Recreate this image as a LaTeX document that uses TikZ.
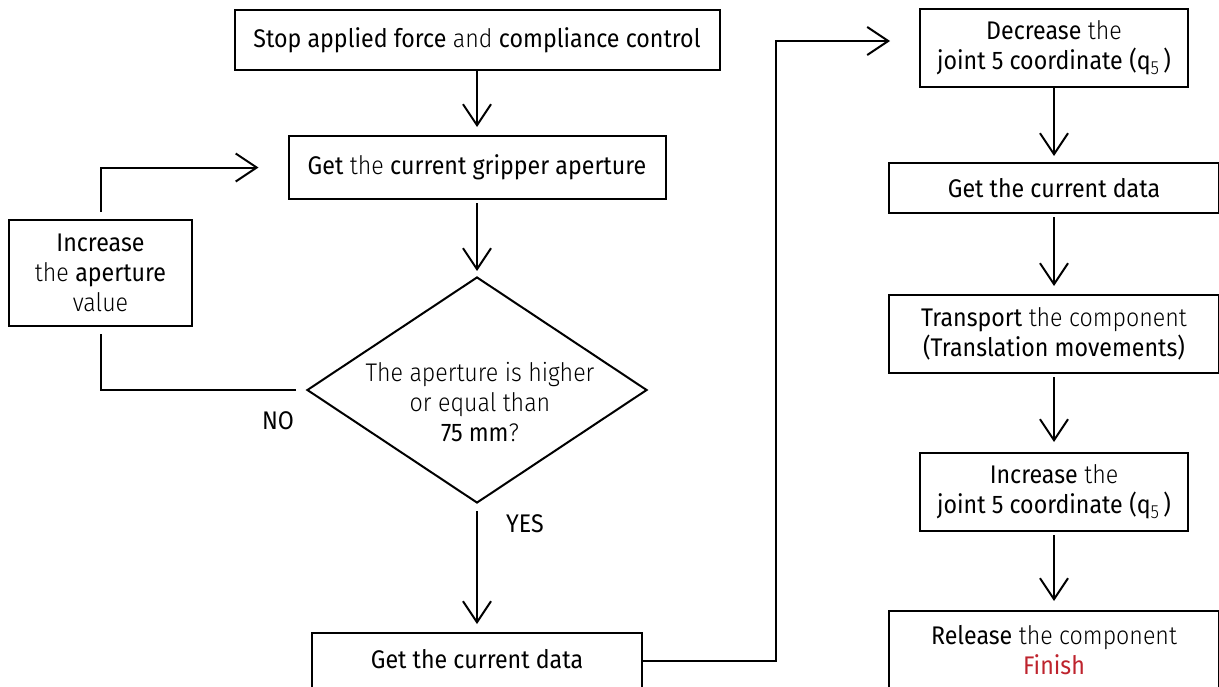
\documentclass[tikz,border=0pt]{standalone}
\usepackage{fontspec}
\setmainfont{Fira Sans Light}[FakeStretch=0.91]
\newfontfamily\md{Fira Sans}[FakeStretch=0.91]
\usetikzlibrary{arrows.meta,shapes.geometric,calc}
\definecolor{finishred}{RGB}{190,35,45}
\newcommand{\B}[1]{{\md #1}}
\newcommand{\qfive}{\B{(q}\raisebox{-5pt}{\fontsize{19}{19}\selectfont 5}\,\B{)}}

\begin{document}
\begin{tikzpicture}[x=1pt,y=-1pt,
  every node/.style={font=\fontsize{25.5}{30}\selectfont},
  box/.style={draw, line width=2pt, align=center, inner sep=0pt},
  flow/.style={line width=2pt, -{Straight Barb[length=21pt,width=28pt]},
               shorten <=3pt, shorten >=8pt},
  plain/.style={line width=2pt}]
\useasboundingbox (0,0) rectangle (1219,686);

% left column
\node[box, minimum width=485pt, minimum height=60pt] (stop) at (477,40)
  {\B{Stop applied force} and \B{compliance control}};
\node[box, minimum width=377pt, minimum height=63pt] (aper) at (477,167.5)
  {\B{Get} the \B{current gripper aperture}};
\node[box, minimum width=183pt, minimum height=106pt] (inc) at (100.5,273)
  {\B{Increase}\\ the \B{aperture}\\ value};
\node[diamond, draw, line width=2pt, minimum width=340pt, minimum height=226pt,
      inner sep=0pt] (dia) at (477,390) {};
\node[align=center] (diatext) at (480,402)
  {The aperture is higher\\ or equal than\\ \B{75 mm}?};
\node (no) at (278,421) {\B{NO}};
\node (yes) at (525,524) {\B{YES}};
\node[box, minimum width=330pt, minimum height=78pt, anchor=north,
      text height=18pt, text depth=25pt] (data1) at (477,632)
  {\B{Get the current data}};

% right column
\node[box, minimum width=268pt, minimum height=78pt] (dec5) at (1054,48)
  {\B{Decrease} the\\ \B{joint 5 coordinate} \qfive};
\node[box, minimum width=330pt, minimum height=50pt] (data2) at (1054,188)
  {\B{Get the current data}};
\node[box, minimum width=330pt, minimum height=78pt] (trans) at (1054,334)
  {\B{Transport} the component\\ \B{(Translation movements)}};
\node[box, minimum width=268pt, minimum height=78pt] (inc5) at (1054,492)
  {\B{Increase} the\\ \B{joint 5 coordinate} \qfive};
\node[box, minimum width=330pt, minimum height=78pt] (rel) at (1054,650)
  {\B{Release} the component\\ \textcolor{finishred}{\B{Finish}}};

% connectors
\draw[flow, shorten <=0pt] (stop) -- (aper);
\draw[flow, shorten >=5pt] (aper) -- (dia);
\draw[flow, shorten <=7pt] (dia) -- (data1);
\draw[plain, shorten <=10pt, shorten >=7pt] (dia.west) -| (inc.south);
\draw[flow, shorten <=7pt, shorten >=29pt] (inc.north) |- (aper.west);

\coordinate (d1out) at ([yshift=-29pt]data1.north east);
\coordinate (riser) at (776,41);
\coordinate (d5in) at ([yshift=7pt]dec5.west);
\draw[flow, shorten <=0pt, shorten >=29pt] (d1out) -| (riser) -- (d5in);

\draw[flow, shorten <=0pt, shorten >=6pt] (dec5) -- (data2);
\draw[flow] (data2) -- (trans);
\draw[flow, shorten >=10pt] (trans) -- (inc5);
\draw[flow, shorten >=9pt] (inc5) -- (rel);
\end{tikzpicture}
\end{document}
